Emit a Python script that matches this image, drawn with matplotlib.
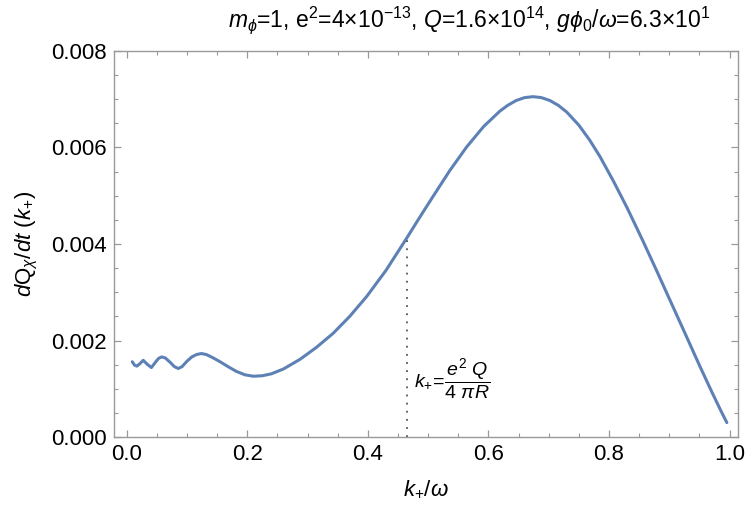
import numpy as np
import matplotlib
matplotlib.use("Agg")
import matplotlib.pyplot as plt
from matplotlib.ticker import MultipleLocator, FormatStrFormatter

plt.rcParams['font.family'] = ['Liberation Sans', 'DejaVu Sans']
plt.rcParams['mathtext.fontset'] = 'custom'
plt.rcParams['mathtext.rm'] = 'Liberation Sans'
plt.rcParams['mathtext.it'] = 'Liberation Sans:italic'
plt.rcParams['mathtext.bf'] = 'Liberation Sans:bold'

# values
k_over_w = [0.0093, 0.013, 0.017, 0.022, 0.0275, 0.034, 0.041, 0.049, 0.053, 0.058,
            0.064, 0.072, 0.079, 0.0856, 0.092, 0.100, 0.108, 0.116, 0.124, 0.132,
            0.142, 0.155, 0.168, 0.182, 0.196, 0.210, 0.225, 0.240, 0.260, 0.2875,
            0.315, 0.3426, 0.370, 0.398, 0.430, 0.464, 0.486, 0.508, 0.536, 0.564,
            0.592, 0.619, 0.632, 0.646, 0.660, 0.674, 0.688, 0.702, 0.716, 0.730,
            0.750, 0.768, 0.785, 0.807, 0.830, 0.856, 0.880, 0.901, 0.925, 0.951,
            0.970, 0.985, 0.9955]
dQdt = [0.00156, 0.00149, 0.00147, 0.00152, 0.00159, 0.00151, 0.00144, 0.00157, 0.00163, 0.00166,
        0.00164, 0.00155, 0.00146, 0.00142, 0.00146, 0.00157, 0.00166, 0.00171, 0.00173, 0.00171,
        0.00165, 0.00156, 0.00146, 0.00136, 0.00129, 0.00126, 0.00127, 0.00131, 0.00141, 0.00161,
        0.00186, 0.00215, 0.00250, 0.00291, 0.00345, 0.00411, 0.00455, 0.00498, 0.00552, 0.00601,
        0.00643, 0.00675, 0.00687, 0.00697, 0.00703, 0.00705, 0.00703, 0.00697, 0.00687, 0.00673,
        0.00646, 0.00615, 0.00581, 0.00531, 0.00475, 0.00407, 0.00342, 0.00284, 0.00218, 0.00146,
        0.00095, 0.00056, 0.00030]

k_mark = 0.465
k_mark_height = 0.00413

title = (r'$m_{\phi}$=1, e$^{2}$=4$\times$10$^{-13}$, $Q$=1.6$\times$10$^{14}$, '
         r'$g\phi_{0}/\omega$=6.3$\times$10$^{1}$')

fig = plt.figure(figsize=(7.5, 5.13), dpi=100)
ax = fig.add_axes([0.152, 0.148, 0.832, 0.753])

ax.plot(k_over_w, dQdt, color='#5E81B5', lw=2.2, solid_capstyle='round',
        solid_joinstyle='round')
ax.plot([k_mark, k_mark], [0, k_mark_height], color='#555555', lw=1.3, ls=(0, (1, 3.5)))
ax.text(0.477, 0.00122, r'$k_{+}\!=\!\dfrac{e^{2}\ Q}{4\ \pi R}$', fontsize=14,
        va='center', ha='left')

ax.set_xlim(-0.021, 1.014)
ax.set_ylim(0, 0.008)
ax.xaxis.set_major_locator(MultipleLocator(0.2))
ax.xaxis.set_minor_locator(MultipleLocator(0.05))
ax.yaxis.set_major_locator(MultipleLocator(0.002))
ax.yaxis.set_minor_locator(MultipleLocator(0.0005))
ax.xaxis.set_major_formatter(FormatStrFormatter('%.1f'))
ax.yaxis.set_major_formatter(FormatStrFormatter('%.3f'))

frame = '#999999'
for s in ax.spines.values():
    s.set_color(frame)
    s.set_linewidth(1.0)
ax.tick_params(which='both', direction='in', top=True, right=True, color=frame,
               labelsize=16, labelcolor='black')
ax.tick_params(which='major', length=5, width=0.9, pad=5)
ax.tick_params(which='minor', length=3, width=0.8)

ax.set_xlabel(r'$k_{+}/\omega$', fontsize=16, labelpad=10)
ax.set_ylabel(r'$d$Q$_{\chi}$/$dt$ ($k_{+}$)', fontsize=16, labelpad=8)
fig.text(0.626, 0.961, title, fontsize=16.5, ha='center', va='center')

fig.savefig('out.png', dpi=100)
